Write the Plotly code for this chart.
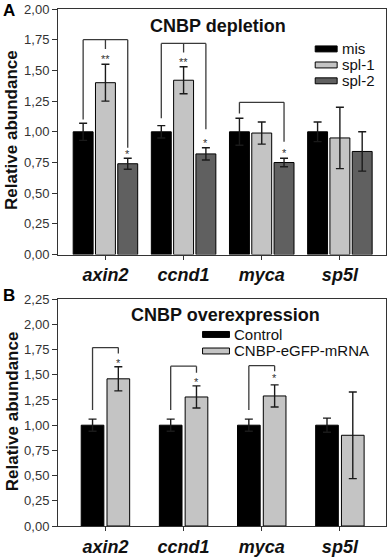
import plotly.graph_objects as go

# ---------------- data ----------------
genes = ["axin2", "ccnd1", "myca", "sp5l"]

# Panel A: CNBP depletion
mis = [1.00, 1.00, 1.00, 1.00]
mis_err = [0.07, 0.05, 0.11, 0.08]
spl1 = [1.40, 1.42, 0.99, 0.95]
spl1_err = [0.15, 0.11, 0.09, 0.25]
spl2 = [0.74, 0.82, 0.75, 0.84]
spl2_err = [0.045, 0.05, 0.035, 0.16]

# Panel B: CNBP overexpression
control = [1.00, 1.00, 1.00, 1.00]
control_err = [0.06, 0.06, 0.06, 0.07]
cnbp_oe = [1.46, 1.28, 1.29, 0.90]
cnbp_oe_err = [0.12, 0.11, 0.11, 0.43]

ticks_A = [0, 0.25, 0.5, 0.75, 1.0, 1.25, 1.5, 1.75, 2.0]
ticks_B = [0, 0.25, 0.5, 0.75, 1.0, 1.25, 1.5, 1.75, 2.0, 2.25]

# significance brackets: gene index, left offset, right offset, top, left bottom, right bottom, middle tick bottom
brackets_A = [
    (0, -0.2853, 0.2853, 1.75, 1.10, 0.87, 1.675),
    (1, -0.2853, 0.2853, 1.72, 1.11, 1.02, 1.645),
    (2, -0.2853, 0.2853, 1.24, 1.15, 0.92, None),
]
stars_A = [(0, 0.0, 1.62, "**"), (0, 0.2853, 0.84, "*"), (1, 0.0, 1.59, "**"),
           (1, 0.2853, 0.935, "*"), (2, 0.2853, 0.855, "*")]
brackets_B = [
    (0, -0.165, 0.165, 1.77, 1.15, 1.71, None),
    (1, -0.165, 0.165, 1.585, 1.15, 1.52, None),
    (2, -0.165, 0.165, 1.59, 1.15, 1.535, None),
]
stars_B = [(0, 0.165, 1.65, "*"), (1, 0.165, 1.46, "*"), (2, 0.165, 1.50, "*")]

# ---------------- styling ----------------
FONT = "Liberation Sans, Arial, sans-serif"
C_BLACK = "#000000"
C_LIGHT = "#c4c4c4"
C_DARK = "#606060"
W, H = 389, 559
ML, MR, MT, MB = 58, 2, 8, 29
PW, PH = W - ML - MR, H - MT - MB


def px2x(px):
    return (px - ML) / PW


def px2y(py):
    return (H - MB - py) / PH


fig = go.Figure()
xpos = list(range(len(genes)))


def add_bar(y, err, color, width, offset, xa, ya, ecolor="#1a1a1a"):
    fig.add_trace(go.Bar(
        x=xpos, y=y, width=width, offset=offset,
        marker=dict(color=color, line=dict(color="#000000", width=1)),
        error_y=dict(type="data", array=err, visible=True, color=ecolor,
                     thickness=1.4, width=4),
        xaxis=xa, yaxis=ya, showlegend=False, hoverinfo="skip"))


# panel A bars
wA = 0.255
add_bar(mis, mis_err, C_BLACK, wA, -0.2853 - wA / 2, "x", "y")
add_bar(spl1, spl1_err, C_LIGHT, wA, 0 - wA / 2, "x", "y")
add_bar(spl2, spl2_err, C_DARK, wA, 0.2853 - wA / 2, "x", "y")
# panel B bars
wB = 0.29
add_bar(control, control_err, C_BLACK, wB, -0.165 - wB / 2, "x2", "y2")
add_bar(cnbp_oe, cnbp_oe_err, C_LIGHT, wB, 0.165 - wB / 2, "x2", "y2")

shapes = []
annotations = []
LC = "#3a3a3a"


def add_brackets(brackets, stars, xr, yr):
    for g, lo, ro, top, lb, rb, mb in brackets:
        xl, xr_ = g + lo, g + ro
        for (x0, y0, x1, y1) in [(xl, lb, xl, top), (xl, top, xr_, top), (xr_, top, xr_, rb)]:
            shapes.append(dict(type="line", xref=xr, yref=yr, x0=x0, y0=y0, x1=x1, y1=y1,
                               line=dict(color=LC, width=1.3)))
        if mb is not None:
            shapes.append(dict(type="line", xref=xr, yref=yr, x0=g, y0=top, x1=g, y1=mb,
                               line=dict(color=LC, width=1.3)))
    for g, off, yv, txt in stars:
        annotations.append(dict(xref=xr, yref=yr, x=g + off, y=yv, text=txt, showarrow=False,
                                yshift=-3, font=dict(family=FONT, size=11, color="#333333")))


add_brackets(brackets_A, stars_A, "x", "y")
add_brackets(brackets_B, stars_B, "x2", "y2")

# legends (drawn manually to match the flat swatches)
legA = [("mis", C_BLACK, 48.3), ("spl-1", C_LIGHT, 64.5), ("spl-2", C_DARK, 80.5)]
for name, col, py in legA:
    shapes.append(dict(type="rect", xref="paper", yref="paper", x0=px2x(316), x1=px2x(338),
                       y0=px2y(py + 3), y1=px2y(py - 3), fillcolor=col,
                       line=dict(color="#000000", width=1)))
    annotations.append(dict(xref="paper", yref="paper", x=px2x(341), y=px2y(py), text=name,
                            showarrow=False, xanchor="left", yanchor="middle",
                            font=dict(family=FONT, size=15, color="#111111")))
legB = [("Control", C_BLACK, 336.6), ("CNBP-eGFP-mRNA", C_LIGHT, 353.3)]
for name, col, py in legB:
    shapes.append(dict(type="rect", xref="paper", yref="paper", x0=px2x(203), x1=px2x(230),
                       y0=px2y(py + 3), y1=px2y(py - 3), fillcolor=col,
                       line=dict(color="#000000", width=1)))
    annotations.append(dict(xref="paper", yref="paper", x=px2x(233), y=px2y(py), text=name,
                            showarrow=False, xanchor="left", yanchor="middle",
                            font=dict(family=FONT, size=15, color="#111111")))

# titles, panel letters, axis titles
for txt, cx, cy in [("CNBP depletion", 218, 25), ("CNBP overexpression", 226.5, 317.3)]:
    annotations.append(dict(xref="paper", yref="paper", x=px2x(cx), y=px2y(cy), text="<b>%s</b>" % txt,
                            showarrow=False, xanchor="center", yanchor="middle",
                            font=dict(family=FONT, size=18, color="#111111")))
for txt, cx, cy in [("A", 8.5, 10), ("B", 8.5, 297.5)]:
    annotations.append(dict(xref="paper", yref="paper", x=px2x(cx), y=px2y(cy), text="<b>%s</b>" % txt,
                            showarrow=False, xanchor="center", yanchor="middle",
                            font=dict(family=FONT, size=17, color="#000000")))
for cy in [130, 414]:
    annotations.append(dict(xref="paper", yref="paper", x=px2x(12), y=px2y(cy),
                            text="<b>Relative abundance</b>", textangle=-90,
                            showarrow=False, xanchor="center", yanchor="middle",
                            font=dict(family=FONT, size=17, color="#111111")))

xrange_ = [-0.607, 3.59]
xaxis_common = dict(type="linear", range=xrange_, tickvals=xpos, ticktext=genes,
                    showline=True, linecolor="#333333", linewidth=1,
                    mirror=True, ticks="outside", ticklen=4, tickcolor="#333333",
                    tickfont=dict(family=FONT, size=18, color="#111111", weight="bold", style="italic"),
                    showgrid=False, zeroline=False, fixedrange=True)
yaxis_common = dict(showline=True, linecolor="#333333", linewidth=1, mirror=True, ticks="outside",
                    ticklen=5, tickcolor="#333333", tickformat=".2f",
                    tickfont=dict(family=FONT, size=13, color="#333333"),
                    showgrid=False, zeroline=False, fixedrange=True)

fig.update_layout(
    width=W, height=H, margin=dict(l=ML, r=MR, t=MT, b=MB),
    paper_bgcolor="white", plot_bgcolor="white", separators=",.",
    barmode="overlay", showlegend=False,
    xaxis=dict(xaxis_common, anchor="y"),
    yaxis=dict(yaxis_common, domain=[px2y(256), px2y(8)], range=[0, 2.0], tickvals=ticks_A, anchor="x"),
    xaxis2=dict(xaxis_common, anchor="y2"),
    yaxis2=dict(yaxis_common, domain=[px2y(530), px2y(301)], range=[0, 2.25], tickvals=ticks_B, anchor="x2"),
    shapes=shapes, annotations=annotations,
)

# remove the browser's default body margin so the figure sits at the page origin
fig.write_html("out.html", config={"displayModeBar": False},
               post_script="document.body.style.margin='0';")
